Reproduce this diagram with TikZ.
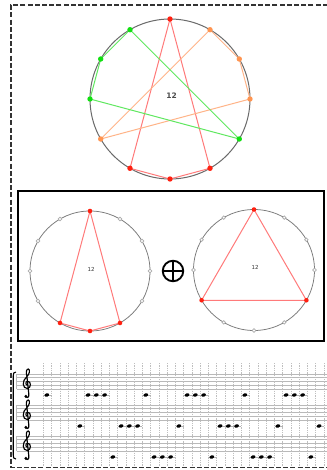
\documentclass[tikz,border=0pt]{standalone}
\usepackage{fontspec}
\setsansfont{DejaVu Sans}
\definecolor{dotred}{HTML}{FF2010}
\definecolor{linered}{HTML}{FF7A7A}
\definecolor{dotorange}{HTML}{FF9450}
\definecolor{lineorange}{HTML}{FFB488}
\definecolor{dotgreen}{HTML}{10E010}
\definecolor{linegreen}{HTML}{60E860}
\definecolor{circgray}{HTML}{6A6A6A}
\tikzset{
  outerborder/.style={line width=1.7pt, draw=black!80, dash pattern=on 5pt off 2.2pt},
  bigcirc/.style={draw=circgray, line width=1pt},
  smallcirc/.style={draw=circgray!90, line width=0.75pt},
  redline/.style={draw=linered, line width=1pt},
  orline/.style={draw=lineorange, line width=1pt},
  grline/.style={draw=linegreen, line width=1pt},
  hollowdot/.style={draw=gray!65, line width=0.7pt},
  staffline/.style={draw=gray!55, line width=0.6pt},
  gridline/.style={draw=gray!50, line width=0.55pt, dash pattern=on 1.3pt off 1pt},
  notehead/.style={fill=black},
  ledger/.style={draw=gray!60, line width=0.5pt},
  labA/.style={font=\sffamily\bfseries\fontsize{7.5}{8}\selectfont, text=black!70, inner sep=0},
  labB/.style={font=\sffamily\fontsize{5.5}{6}\selectfont, text=black!80, inner sep=0},
}
\begin{document}
\begin{tikzpicture}[x=1pt,y=-1pt]
\useasboundingbox (0,0) rectangle (326,470);
\fill[white] (0,0) rectangle (326,470);
% outer dashed border (runs off right edge)
\draw[outerborder] (335,5.3) -- (11,5.3) -- (11,467.5) -- (335,467.5);

% ---------- top clock ----------
\coordinate (C) at (170,99);
\draw[bigcirc] (C) circle[radius=80];
\foreach \i in {0,...,11} \path (C) ++(30*\i-90:80) coordinate (T\i);
\draw[redline] (T0) -- (T5) -- (T6) -- (T7) -- cycle;
\draw[orline] (T1) -- (T2) -- (T3) -- (T8) -- cycle;
\draw[grline] (T4) -- (T9) -- (T10) -- (T11) -- cycle;
\foreach \i in {0,5,6,7} \fill[dotred] (T\i) circle[radius=2.7];
\foreach \i in {1,2,3,8} \fill[dotorange] (T\i) circle[radius=2.7];
\foreach \i in {4,9,10,11} \fill[dotgreen] (T\i) circle[radius=2.7];
\node[labA] (lab1) at (171.5,96) {12};

% ---------- middle box ----------
\draw[line width=2.6pt] (18,191) rectangle (324,341);

\coordinate (CL) at (90,271);
\draw[smallcirc] (CL) circle[radius=60];
\foreach \i in {0,...,11} \path (CL) ++(30*\i-90:60) coordinate (L\i);
\foreach \i in {1,2,3,4,8,9,10,11} \filldraw[hollowdot, fill=white] (L\i) circle[radius=1.8];
\draw[redline] (L0) -- (L5) -- (L6) -- (L7) -- cycle;
\foreach \i in {0,5,6,7} \fill[dotred] (L\i) circle[radius=2.3];
\node[labB] (lab2) at (91,269) {12};

\coordinate (CR) at (254,270);
\draw[smallcirc] (CR) circle[radius=60.5];
\foreach \i in {0,...,11} \path (CR) ++(30*\i-90:60.5) coordinate (R\i);
\foreach \i in {1,2,3,5,6,7,9,10,11} \filldraw[hollowdot, fill=white] (R\i) circle[radius=1.8];
\draw[redline] (R0) -- (R4) -- (R8) -- cycle;
\foreach \i in {0,4,8} \fill[dotred] (R\i) circle[radius=2.3];
\node[labB] (lab3) at (255,267.5) {12};

\node[circle, draw, line width=1.9pt, minimum size=20.5pt, inner sep=0] (plus) at (173,271) {};
\draw[line width=1.9pt] (plus.north) -- (plus.south);
\draw[line width=1.9pt] (plus.west) -- (plus.east);

% ---------- staves ----------
\foreach \yb in {389,420,451} {
  \foreach \j in {0,...,4} \draw[staffline] (16.7,\yb-3.8*\j) -- (330,\yb-3.8*\j);
  \draw[staffline] (16.7,\yb) -- (16.7,\yb-15.2);
}
\foreach \k in {0,...,34} \draw[gridline] (43.3+8.25*\k,363) -- (43.3+8.25*\k,466);

% bracket
\draw[line width=1.1pt] (16,372) .. controls (13.5,372) and (13.2,373.5) .. (13.2,376.5) -- (13.2,454.5) .. controls (13.2,457.5) and (13.5,459) .. (16,459);

% treble clefs
\foreach \yb in {389,420,451} {
\begin{scope}[shift={(26.5pt,-\yb pt)}, x=3.6pt, y=3.8pt]
  \draw[line width=1.15pt, line cap=round]
    (0.35,1.0) .. controls (-0.3,0.9) and (-0.35,2.0) .. (0.25,2.05)
    .. controls (1.35,2.15) and (1.4,0.2) .. (0.2,0.15)
    .. controls (-1.15,0.1) and (-1.3,2.2) .. (0.05,3.2)
    .. controls (0.85,3.85) and (1.05,5.1) .. (0.55,5.25)
    .. controls (0.05,5.4) and (-0.25,4.4) .. (0.1,3.5)
    -- (0.65,-1.4) .. controls (0.75,-2.3) and (0.05,-2.5) .. (-0.25,-2.0);
  \fill (-0.15,-1.95) circle[radius=0.45];
\end{scope}
}

% notes
\foreach \k in {0,5,6,7,12,17,18,19,24,29,30,31} {
  \draw[ledger] (43.5+8.25*\k,395) -- (51.5+8.25*\k,395);
  \fill[notehead, rotate around={20:(46.8+8.25*\k,395)}] (46.8+8.25*\k,395) ellipse[x radius=2.4, y radius=1.7];
}
\foreach \k in {4,9,10,11,16,21,22,23,28,33} {
  \draw[ledger] (43.5+8.25*\k,426) -- (51.5+8.25*\k,426);
  \fill[notehead, rotate around={20:(46.8+8.25*\k,426)}] (46.8+8.25*\k,426) ellipse[x radius=2.4, y radius=1.7];
}
\foreach \k in {8,13,14,15,20,25,26,27,32} {
  \draw[ledger] (43.5+8.25*\k,457) -- (51.5+8.25*\k,457);
  \fill[notehead, rotate around={20:(46.8+8.25*\k,457)}] (46.8+8.25*\k,457) ellipse[x radius=2.4, y radius=1.7];
}
\end{tikzpicture}
\end{document}
